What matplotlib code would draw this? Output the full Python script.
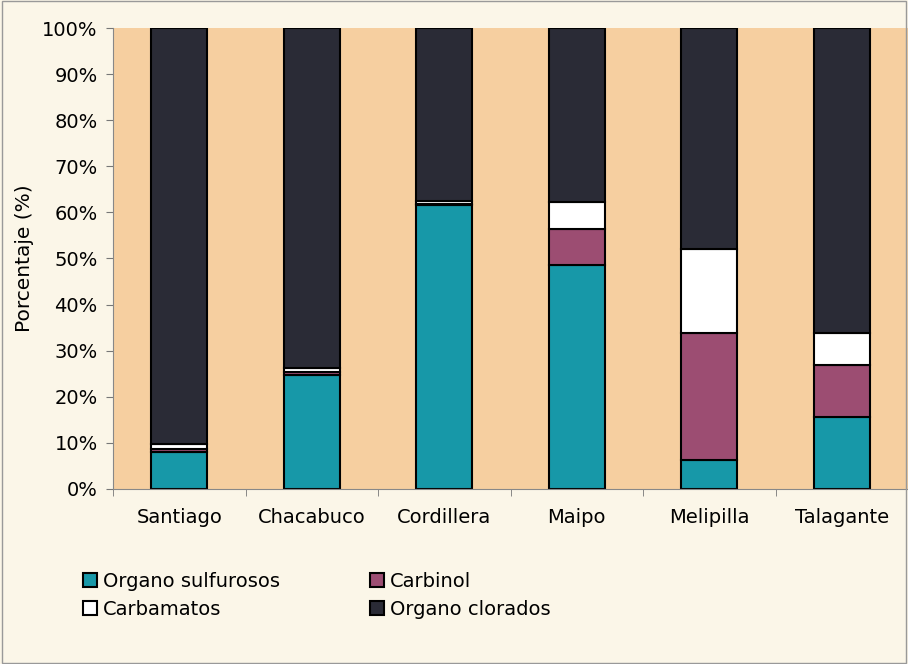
import numpy as np
import matplotlib.pyplot as plt
from matplotlib.ticker import PercentFormatter

plt.rcParams['font.family'] = ['DejaVu Sans']

provincias = ["Santiago", "Chacabuco", "Cordillera", "Maipo", "Melipilla", "Talagante"]
organo_sulfurosos = [8.0, 24.8, 61.6, 48.6, 6.3, 15.7]
carbinol = [0.7, 0.6, 0.2, 7.9, 27.6, 11.2]
carbamatos = [1.0, 0.8, 0.7, 5.8, 18.1, 7.0]
organo_clorados = [90.3, 73.8, 37.5, 37.7, 48.0, 66.1]

series = [
    ("Organo sulfurosos", organo_sulfurosos, "#1798a8"),
    ("Carbinol", carbinol, "#9c4d72"),
    ("Carbamatos", carbamatos, "#ffffff"),
    ("Organo clorados", organo_clorados, "#2a2b36"),
]

fig = plt.figure(figsize=(9.08, 6.64), dpi=100, facecolor="#fbf6e8")
ax = fig.add_axes([0.1245, 0.2636, 0.8755, 0.6942])
ax.set_facecolor("#f6cfa0")

x = np.arange(len(provincias))
bottom = np.zeros(len(provincias))
bars = {}
for name, vals, color in series:
    bars[name] = ax.bar(x, vals, width=0.42, bottom=bottom, color=color,
                        edgecolor="black", linewidth=1.5, label=name)
    bottom += np.array(vals)

ax.set_xlim(-0.5, len(provincias) - 0.5)
ax.set_ylim(0, 100)
ax.set_yticks(np.arange(0, 101, 10))
ax.yaxis.set_major_formatter(PercentFormatter(decimals=0))
ax.set_xticks(x)
ax.set_xticklabels(provincias, fontsize=14)
ax.tick_params(axis="x", length=0, pad=14)
ax.set_xticks(np.arange(-0.5, len(provincias)), minor=True)
ax.tick_params(axis="x", which="minor", length=5, color="#777777")
ax.tick_params(axis="y", labelsize=14, length=5, color="#777777", pad=6)
ax.set_ylabel("Porcentaje (%)", fontsize=14.5, labelpad=6)

ax.spines["top"].set_visible(False)
for side in ["left", "bottom", "right"]:
    ax.spines[side].set_color("#888888")

order = ["Organo sulfurosos", "Carbamatos", "Carbinol", "Organo clorados"]
leg = fig.legend([bars[n] for n in order], order, ncol=2, loc="upper left",
                 bbox_to_anchor=(0.072, 0.165), frameon=False, fontsize=14,
                 handlelength=0.75, handleheight=0.75, handletextpad=0.3,
                 columnspacing=4.6, labelspacing=0.45)

fig.patches.append(plt.Rectangle((0.002, 0.002), 0.996, 0.996, transform=fig.transFigure,
                                 fill=False, edgecolor="#999999", linewidth=1))

fig.savefig("out.png", dpi=100, facecolor=fig.get_facecolor())
